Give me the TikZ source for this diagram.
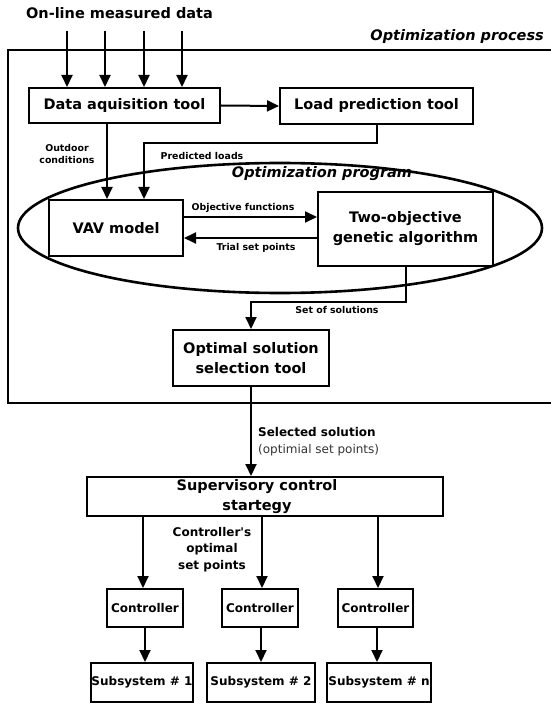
\documentclass[tikz,border=0pt]{standalone}
\usepackage{fontspec}
\setmainfont{DejaVu Sans}
\usetikzlibrary{arrows.meta}
\newcommand{\bigf}{\fontsize{14.5}{20}\selectfont\bfseries}
\newcommand{\midf}{\fontsize{12}{16.5}\selectfont\bfseries}
\newcommand{\smallf}{\fontsize{9.4}{12}\selectfont\bfseries}
\tikzset{
  box/.style={draw, line width=2pt, inner sep=0pt, align=center, font=\bigf},
  cbox/.style={draw, line width=2pt, inner sep=0pt, align=center, font=\midf},
  arr/.style={line width=2pt, -{Triangle[length=12pt,width=11pt]}},
  lbl/.style={inner sep=0pt, align=center, font=\smallf},
  frameline/.style={line width=2.2pt},
  progline/.style={line width=2.6pt},
}
\begin{document}
\begin{tikzpicture}[x=1pt,y=-1pt]
\useasboundingbox (0,0) rectangle (550,703);

% titles
\node[inner sep=0pt, font=\bigf] (title) at (119.5,13) {On-line measured data};
\node[inner sep=0pt, anchor=east, font=\bigf\itshape] (proclbl) at (544,37) {Optimization process};

% process frame (open at the right)
\draw[frameline] (551,50) -- (8,50) -- (8,403) -- (551,403);

% optimization program ellipse
\draw[progline] (280,228) ellipse [x radius=262pt, y radius=65pt];
\node[inner sep=0pt, font=\bigf\itshape] (proglbl) at (322,174) {Optimization program};

% boxes
\node[box, minimum width=191pt, minimum height=35pt] (DA) at (124.5,105.5) {Data aquisition tool};
\node[box, minimum width=193pt, minimum height=36pt] (LP) at (376.5,106) {Load prediction tool};
\node[box, minimum width=134pt, minimum height=56pt] (VAV) at (116,228) {VAV model};
\node[box, minimum width=175pt, minimum height=74pt] (TO) at (405.5,229) {Two-objective\\genetic algorithm};
\node[box, minimum width=156pt, minimum height=56pt] (OS) at (251,358) {Optimal solution\\selection tool};
\node[box, minimum width=356pt, minimum height=39pt] (SC) at (265,496.5) {};
\node[inner sep=0pt, align=center, font=\bigf] (SCtext) at (257,497) {Supervisory control\\startegy};

\node[cbox, minimum width=76pt, minimum height=38pt] (C1) at (145,608) {Controller};
\node[cbox, minimum width=76pt, minimum height=38pt] (C2) at (260,608) {Controller};
\node[cbox, minimum width=75pt, minimum height=38pt] (C3) at (375.5,608) {Controller};
\node[cbox, minimum width=102pt, minimum height=39pt] (S1) at (142,682.5) {Subsystem \# 1};
\node[cbox, minimum width=108pt, minimum height=39pt] (S2) at (261,682.5) {Subsystem \# 2};
\node[cbox, minimum width=104pt, minimum height=39pt] (S3) at (379,682.5) {Subsystem \# n};

% input arrows
\foreach \i/\xx in {1/67,2/105,3/144,4/182}{
  \coordinate (in\i) at (\xx,31);
  \draw[arr] (in\i) -- (in\i |- DA.north);
}

% data acquisition -> load prediction
\draw[arr] (DA.east) -- (LP.west);

% outdoor conditions
\coordinate (oc) at (107,0);
\draw[arr] (DA.south -| oc) -- (VAV.north -| oc);
\node[lbl] (oclbl) at (67,154) {Outdoor\\conditions};

% predicted loads
\coordinate (pl) at (144,143);
\draw[arr] (LP.south) |- (pl) -- (pl |- VAV.north);
\node[lbl] (pllbl) at (202,156) {Predicted loads};

% objective functions / trial set points
\coordinate (ofy) at (0,217);
\coordinate (tsy) at (0,238);
\draw[arr] (VAV.east |- ofy) -- (TO.west |- ofy);
\draw[arr] (TO.west |- tsy) -- (VAV.east |- tsy);
\node[lbl] (oflbl) at (243,208) {Objective functions};
\node[lbl] (tslbl) at (256,248) {Trial set points};

% set of solutions
\coordinate (ss) at (251,302);
\draw[arr] (TO.south) |- (ss) -- (OS.north);
\node[lbl] (sslbl) at (337,310) {Set of solutions};

% selected solution
\draw[arr] (OS.south) -- (OS.south |- SC.north);
\node[inner sep=0pt, anchor=west, align=left, font=\fontsize{12}{17}\selectfont] (sellbl) at (258,441.5)
  {\textbf{Selected solution}\\\textcolor[gray]{0.2}{(optimial set points)}};

% supervisory -> controllers
\foreach \i/\xx in {1/143,2/262,3/378}{
  \coordinate (sc\i) at (\xx,0);
  \draw[arr] (SC.south -| sc\i) -- (C\i.north -| sc\i);
}
\node[inner sep=0pt, align=center, font=\midf] (cslbl) at (212,549.5) {Controller\textquotesingle s\\optimal\\set points};

% controllers -> subsystems
\foreach \i/\xx in {1/145,2/261,3/377}{
  \coordinate (cs\i) at (\xx,0);
  \draw[arr] (C\i.south -| cs\i) -- (S\i.north -| cs\i);
}
\end{tikzpicture}
\end{document}
